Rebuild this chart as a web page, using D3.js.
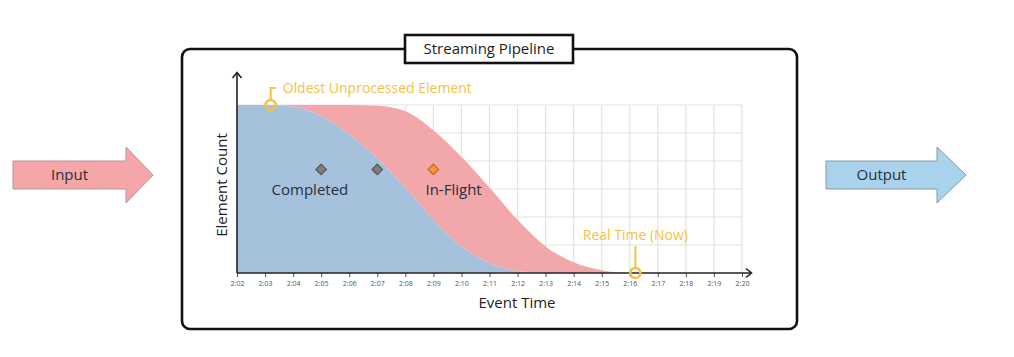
<!DOCTYPE html>
<html>
<head>
<meta charset="utf-8">
<script src="https://cdn.jsdelivr.net/npm/d3@7"></script>
<style>
  html, body { margin: 0; padding: 0; background: #fff; }
  svg { display: block; font-family: "Open Sans", "Noto Sans", sans-serif; }
</style>
</head>
<body>
<svg id="chart" width="1014" height="357"></svg>
<script>
// ---- data ----
const minuteLabels = ["2:02","2:03","2:04","2:05","2:06","2:07","2:08","2:09","2:10","2:11",
                      "2:12","2:13","2:14","2:15","2:16","2:17","2:18","2:19","2:20"];
// element counts (grid units) at each minute
const completed = [6, 6, 5.95, 5.6, 4.95, 4.1, 3.05, 1.9, 0.95, 0.35, 0.07, 0, 0, 0, 0, 0, 0, 0, 0];
const inFlight  = [0, 0, 0.05, 0.4, 1.05, 1.87, 2.73, 3.2, 3.2, 2.7, 1.83, 0.95, 0.38, 0.1, 0, 0, 0, 0, 0];
const markerMinutes = [3, 5, 7];
const markerKinds = ["completed", "completed", "inflight"];
const markerLevel = 3.7;
const oldestUnprocessedMinute = 1.2;
const realTimeMinute = 14.2;
const yMax = 6;

const svg = d3.select("#chart");
const x = d3.scaleLinear().domain([0, minuteLabels.length - 1]).range([237, 742]);
const y = d3.scaleLinear().domain([0, yMax]).range([273, 105]);

const gold = "#F5BF3F";

// ---- side arrows ----
function blockArrow(x0, x1, headX, cy, halfBody, halfHead, fill, stroke, label) {
  const p = d3.path();
  p.moveTo(x0, cy - halfBody);
  p.lineTo(headX, cy - halfBody);
  p.lineTo(headX, cy - halfHead);
  p.lineTo(x1, cy);
  p.lineTo(headX, cy + halfHead);
  p.lineTo(headX, cy + halfBody);
  p.lineTo(x0, cy + halfBody);
  p.closePath();
  svg.append("path").attr("d", p.toString()).attr("fill", fill)
    .attr("stroke", stroke).attr("stroke-width", 1);
  svg.append("text").attr("x", (x0 + headX) / 2).attr("y", cy + 5)
    .attr("text-anchor", "middle").attr("font-size", 15).attr("fill", "#2b2f38").text(label);
}
blockArrow(13, 153, 126, 175, 14, 28, "#F4A6A9", "#b89496", "Input");
blockArrow(826, 966, 937, 175, 14, 28, "#A9D2EC", "#8a98a4", "Output");

// ---- pipeline frame ----
svg.append("rect").attr("x", 182).attr("y", 49).attr("width", 615).attr("height", 280)
  .attr("rx", 8).attr("fill", "#fff").attr("stroke", "#111").attr("stroke-width", 2.6);
svg.append("rect").attr("x", 405).attr("y", 35).attr("width", 168).attr("height", 28)
  .attr("fill", "#fff").attr("stroke", "#111").attr("stroke-width", 2.6);
svg.append("text").attr("x", 489).attr("y", 54).attr("text-anchor", "middle")
  .attr("font-size", 15).attr("fill", "#1e1e1e").text("Streaming Pipeline");

// ---- grid ----
const grid = svg.append("g").attr("stroke", "#e2e2e2").attr("stroke-width", 1.2);
d3.range(1, minuteLabels.length).forEach(i => {
  grid.append("line").attr("x1", x(i)).attr("x2", x(i)).attr("y1", y(0)).attr("y2", y(yMax));
});
d3.range(1, yMax + 1).forEach(v => {
  grid.append("line").attr("x1", x(0)).attr("x2", x(minuteLabels.length - 1)).attr("y1", y(v)).attr("y2", y(v));
});

// ---- stacked areas ----
const rows = minuteLabels.map((m, i) => ({ i, completed: completed[i], inFlight: inFlight[i] }));
const stack = d3.stack().keys(["completed", "inFlight"]);
const series = stack(rows);
const area = d3.area()
  .x(d => x(d.data.i))
  .y0(d => y(d[0]))
  .y1(d => y(d[1]))
  .curve(d3.curveMonotoneX);
const fills = { completed: "#A3BFDA", inFlight: "#F2A4A7" };
svg.append("g").selectAll("path").data(series).join("path")
  .attr("d", area).attr("fill", d => fills[d.key]).attr("opacity", 0.97);

// ---- axes ----
const axisColor = "#222";
const xAxis = d3.axisBottom(x).tickValues(d3.range(minuteLabels.length))
  .tickFormat(i => minuteLabels[i]).tickSize(4).tickSizeOuter(0);
const gx = svg.append("g").attr("transform", `translate(0,${y(0)})`).call(xAxis);
gx.select(".domain").remove();
gx.selectAll(".tick line").attr("stroke", "#555");
gx.selectAll(".tick text").attr("font-size", 7).attr("fill", "#555").attr("dy", "0.9em")
  .attr("font-family", "'Open Sans', sans-serif");

svg.append("line").attr("x1", x(0)).attr("x2", 751).attr("y1", y(0)).attr("y2", y(0))
  .attr("stroke", axisColor).attr("stroke-width", 1.6);
svg.append("path").attr("d", `M746,${y(0) - 4.5}L751.5,${y(0)}L746,${y(0) + 4.5}`)
  .attr("fill", "none").attr("stroke", axisColor).attr("stroke-width", 1.6);
svg.append("line").attr("x1", x(0)).attr("x2", x(0)).attr("y1", y(0)).attr("y2", 73)
  .attr("stroke", axisColor).attr("stroke-width", 1.6);
svg.append("path").attr("d", `M${x(0) - 4.5},78L${x(0)},72.5L${x(0) + 4.5},78`)
  .attr("fill", "none").attr("stroke", axisColor).attr("stroke-width", 1.6);

svg.append("text").attr("transform", `translate(227,${(y(0) + y(yMax)) / 2 - 4}) rotate(-90)`)
  .attr("text-anchor", "middle").attr("font-size", 15).attr("fill", "#222").text("Element Count");
svg.append("text").attr("x", 517).attr("y", 308).attr("text-anchor", "middle")
  .attr("font-size", 15).attr("fill", "#222").text("Event Time");

// ---- markers ----
const diamond = d3.symbol().type(d3.symbolDiamond2).size(70);
svg.append("g").selectAll("path").data(markerMinutes).join("path")
  .attr("transform", d => `translate(${x(d)},${y(markerLevel)})`)
  .attr("d", diamond)
  .attr("fill", (d, i) => markerKinds[i] === "inflight" ? "#F5962E" : "#7d7d7d")
  .attr("stroke", (d, i) => markerKinds[i] === "inflight" ? "#b86a35" : "#555")
  .attr("stroke-width", 1.2);

svg.append("text").attr("x", x(2.6)).attr("y", y(2.8)).attr("text-anchor", "middle")
  .attr("font-size", 15).attr("fill", "#26303d").text("Completed");
svg.append("text").attr("x", x(7.72)).attr("y", y(2.8)).attr("text-anchor", "middle")
  .attr("font-size", 15).attr("fill", "#26303d").text("In-Flight");

// ---- annotations ----
const ox = x(oldestUnprocessedMinute), oy = y(yMax);
svg.append("path").attr("d", `M${ox},${oy - 5}L${ox},${oy - 17}L${ox + 5},${oy - 17}`)
  .attr("fill", "none").attr("stroke", gold).attr("stroke-width", 2);
svg.append("circle").attr("cx", ox).attr("cy", oy).attr("r", 5)
  .attr("fill", "none").attr("stroke", gold).attr("stroke-width", 2.5);
svg.append("text").attr("x", ox + 12).attr("y", oy - 12).attr("font-size", 14)
  .attr("fill", gold).text("Oldest Unprocessed Element");

const nx = x(realTimeMinute), ny = y(0);
svg.append("line").attr("x1", nx).attr("x2", nx).attr("y1", ny - 5).attr("y2", ny - 27)
  .attr("stroke", gold).attr("stroke-width", 2);
svg.append("circle").attr("cx", nx).attr("cy", ny).attr("r", 5)
  .attr("fill", "none").attr("stroke", gold).attr("stroke-width", 2.5);
svg.append("text").attr("x", nx).attr("y", ny - 33).attr("text-anchor", "middle")
  .attr("font-size", 14).attr("fill", gold).text("Real Time (Now)");
</script>
</body>
</html>
